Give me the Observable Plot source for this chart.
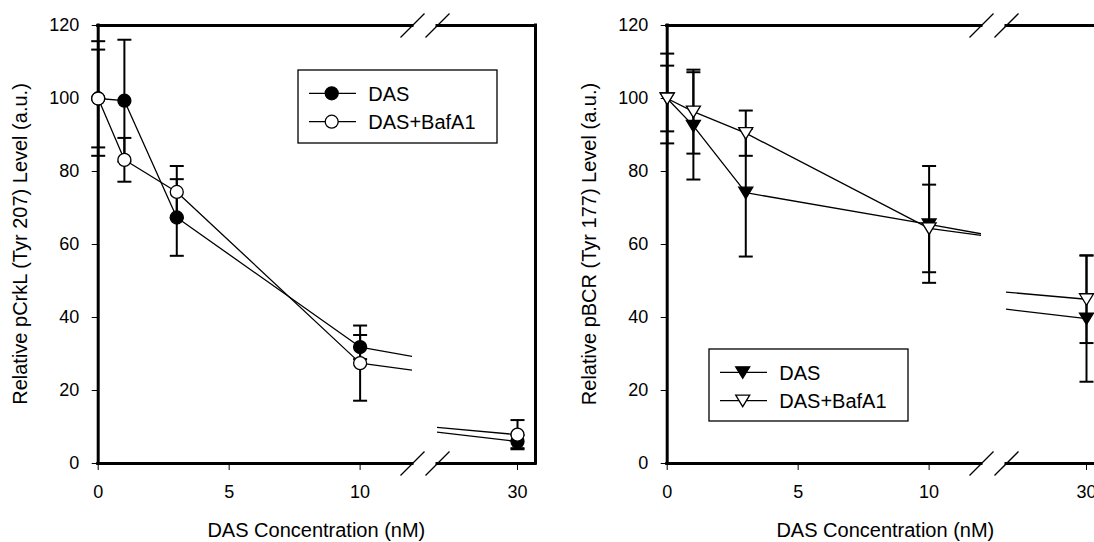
<!DOCTYPE html>
<html><head><meta charset="utf-8">
<script src="https://cdn.jsdelivr.net/npm/d3@7"></script>
<script src="https://cdn.jsdelivr.net/npm/@observablehq/plot@0.6"></script>
<style>
html,body{margin:0;padding:0;background:#fff;}
#chart{position:relative;width:1094px;height:542px;overflow:hidden;font-family:"Liberation Sans",Arial,sans-serif;background:#fff;}
</style></head><body><div id="chart"></div>
<script>
// ---- data ----
const conc = [0, 1, 3, 10, 30];
const crklDas = [100, 99.4, 67.4, 31.9, 6.0];
const crklDasErr = [15.7, 16.7, 10.5, 3.3, 1.8];
const crklBaf = [100, 83.2, 74.4, 27.5, 7.9];
const crklBafErr = [13.4, 6.0, 7.1, 10.3, 4.0];
const bcrDas = [100, 92.5, 74.2, 65.5, 39.7];
const bcrDasErr = [12.3, 14.7, 17.5, 16.0, 17.3];
const bcrBaf = [100, 96.4, 90.5, 64.4, 45.0];
const bcrBafErr = [9.0, 11.5, 6.2, 12.0, 12.0];
const seriesNames = ["DAS", "DAS+BafA1"];
const xTicksLow = [0, 5, 10];
const xTicksHigh = [30];
const yTicks = [0, 20, 40, 60, 80, 100, 120];
const xTitle = "DAS Concentration (nM)";
const yTitles = ["Relative pCrkL (Tyr 207) Level (a.u.)", "Relative pBCR (Tyr 177) Level (a.u.)"];

// ---- layout ----
const W = 560, H = 542, mTop = 25, mBottom = 79;
const segA = {domain: [0, 12], left: 97.7, right: 412};
const segB = {domain: [28, 30.45], left: 437, right: 535};
const panels = [
  {offset: 0, das: crklDas, dasErr: crklDasErr, baf: crklBaf, bafErr: crklBafErr, tri: false, legend: {x: 298, y: 70, w: 199, h: 73}},
  {offset: 569, das: bcrDas, dasErr: bcrDasErr, baf: bcrBaf, bafErr: bcrBafErr, tri: true, legend: {x: 709, y: 349, w: 199, h: 72}}
];

const capSym = {draw(c) { c.moveTo(-7, 0); c.lineTo(7, 0); }};
const slashSym = {draw(c) { c.moveTo(-12, 12); c.lineTo(12, -12); }};
const triDown = {draw(c) { c.moveTo(-7, -5.5); c.lineTo(7, -5.5); c.lineTo(0, 6); c.closePath(); }};

const chart = document.getElementById("chart");

function segment(p, cfg, isA) {
  const rows = [];
  conc.forEach((x, i) => rows.push({x, y: p.das[i], e: p.dasErr[i], s: 0}));
  conc.forEach((x, i) => rows.push({x, y: p.baf[i], e: p.bafErr[i], s: 1}));
  const inSeg = d => d.x >= cfg.domain[0] && d.x <= cfg.domain[1];
  const sym = p.tri ? triDown : "circle";
  const svg = Plot.plot({
    width: W, height: H,
    marginTop: mTop, marginBottom: mBottom,
    marginLeft: cfg.left, marginRight: W - cfg.right,
    x: {domain: cfg.domain, ticks: isA ? xTicksLow : xTicksHigh, tickSize: 7, tickPadding: 15, label: null, tickFormat: d => String(d)},
    y: {domain: [0, 120], ticks: yTicks, tickSize: 6, tickPadding: 13, label: null, axis: isA ? "left" : null},
    marks: [
      Plot.ruleY([0, 120], {stroke: "black", strokeWidth: 3, strokeLinecap: "square"}),
      Plot.ruleX([isA ? cfg.domain[0] : cfg.domain[1]], {stroke: "black", strokeWidth: 3, strokeLinecap: "square"}),
      Plot.line(rows, {x: "x", y: "y", z: "s", stroke: "black", strokeWidth: 1.3, clip: true}),
      Plot.ruleX(rows, {filter: inSeg, x: "x", y1: d => d.y - d.e, y2: d => d.y + d.e, stroke: "black", strokeWidth: 2}),
      Plot.dot(rows, {filter: inSeg, x: "x", y: d => d.y - d.e, symbol: capSym, stroke: "black", fill: "none", strokeWidth: 2}),
      Plot.dot(rows, {filter: inSeg, x: "x", y: d => d.y + d.e, symbol: capSym, stroke: "black", fill: "none", strokeWidth: 2}),
      Plot.dot(rows, {filter: d => inSeg(d) && d.s === 0, x: "x", y: "y", symbol: sym, r: 6.5, fill: "black", stroke: "black", strokeWidth: 1.3}),
      Plot.dot(rows, {filter: d => inSeg(d) && d.s === 1, x: "x", y: "y", symbol: sym, r: 6.5, fill: "white", stroke: "black", strokeWidth: 1.3}),
      Plot.dot([0, 120], {x: () => isA ? cfg.domain[1] : cfg.domain[0], y: d => d, symbol: slashSym, stroke: "black", fill: "none", strokeWidth: 1.3})
    ]
  });
  svg.style.position = "absolute";
  svg.style.left = p.offset + "px";
  svg.style.top = "0px";
  svg.style.background = "transparent";
  svg.style.overflow = "visible";
  svg.style.maxWidth = "none";
  svg.style.fontFamily = '"Liberation Sans", Arial, sans-serif';
  svg.style.fontSize = "18px";
  svg.style.color = "black";
  chart.appendChild(svg);
}

panels.forEach(p => { segment(p, segA, true); segment(p, segB, false); });

// ---- titles and legends (overlay) ----
const ns = "http://www.w3.org/2000/svg";
const ov = document.createElementNS(ns, "svg");
ov.setAttribute("width", 1094); ov.setAttribute("height", 542);
ov.style.position = "absolute"; ov.style.left = "0px"; ov.style.top = "0px";
ov.style.fontFamily = '"Liberation Sans", Arial, sans-serif';
chart.appendChild(ov);
function el(tag, attrs, text) {
  const e = document.createElementNS(ns, tag);
  for (const k in attrs) e.setAttribute(k, attrs[k]);
  if (text != null) e.textContent = text;
  ov.appendChild(e);
  return e;
}
panels.forEach((p, pi) => {
  const o = p.offset;
  el("text", {x: o + (segA.left + segB.right) / 2, y: 537, "text-anchor": "middle", "font-size": 20}, xTitle);
  el("text", {transform: `translate(${o + 26.5},244) rotate(-90)`, "text-anchor": "middle", "font-size": 20}, yTitles[pi]);
  const L = p.legend;
  el("rect", {x: L.x, y: L.y, width: L.w, height: L.h, fill: "white", stroke: "black", "stroke-width": 1.3});
  seriesNames.forEach((name, si) => {
    const cy = L.y + (si === 0 ? 23.3 : 51.7);
    el("line", {x1: L.x + 11, x2: L.x + 58, y1: cy, y2: cy, stroke: "black", "stroke-width": 1.3});
    const fill = si === 0 ? "black" : "white";
    const mx = L.x + 33.7;
    if (p.tri) {
      el("path", {d: `M${mx - 7},${cy - 5.5}L${mx + 7},${cy - 5.5}L${mx},${cy + 6}Z`, fill, stroke: "black", "stroke-width": 1.3});
    } else {
      el("circle", {cx: mx, cy, r: 6.5, fill, stroke: "black", "stroke-width": 1.3});
    }
    el("text", {x: L.x + 70.3, y: cy + 7.2, "font-size": 20}, name);
  });
});
</script></body></html>
